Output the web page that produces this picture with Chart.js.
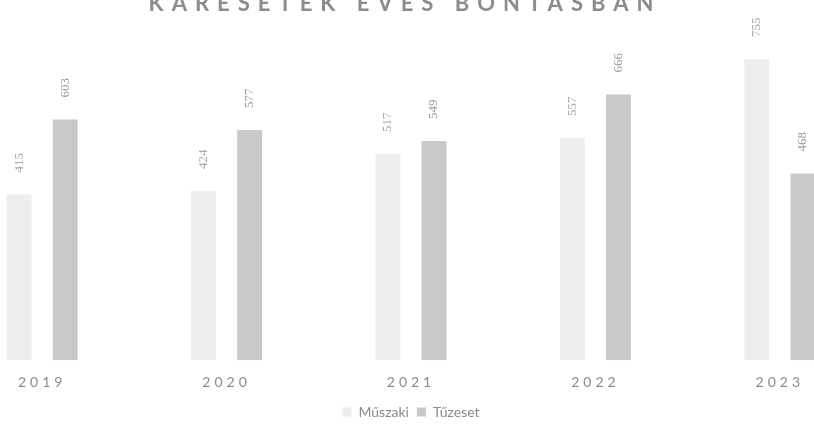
<!DOCTYPE html>
<html lang="hu">
<head>
    <meta charset="UTF-8">
    <title>Káresetek</title>
    <script src="https://cdn.jsdelivr.net/npm/chart.js"></script>
    <style>
        html, body { margin: 0; padding: 0; background: #fff; overflow: hidden; width: 814px; height: 427px; }
        #doboz { position: absolute; left: -50px; top: -22px; width: 922px; height: 451px; }
    </style>
</head>
<body>
    <div id="doboz"><canvas id="grafikon"></canvas></div>

<script>
    // adatok
    var evek = ['2019', '2020', '2021', '2022', '2023'];
    var muszaki = [415, 424, 517, 557, 755];
    var tuzeset = [603, 577, 549, 666, 468];
    var cim = 'KÁRESETEK ÉVES BONTÁSBAN';

    // cim kezi rajzolasa (betukozes miatt)
    var cimPlugin = {
        id: 'cimPlugin',
        afterDraw: function (chart) {
            var ctx = chart.ctx;
            ctx.save();
            ctx.font = 'bold 22px Lato';
            ctx.letterSpacing = '8px';
            ctx.fillStyle = '#8c8c8c';
            ctx.textAlign = 'center';
            ctx.textBaseline = 'alphabetic';
            ctx.fillText(cim, chart.width / 2 - 6, 33);
            ctx.restore();
        }
    };

    // ertekek az oszlopok felett, elforgatva
    var ertekPlugin = {
        id: 'ertekPlugin',
        afterDatasetsDraw: function (chart) {
            var ctx = chart.ctx;
            chart.data.datasets.forEach(function (ds, i) {
                var meta = chart.getDatasetMeta(i);
                meta.data.forEach(function (bar, j) {
                    ctx.save();
                    ctx.translate(bar.x, bar.y - 22);
                    ctx.rotate(-Math.PI / 2);
                    ctx.font = '13px "Liberation Serif"';
                    ctx.fillStyle = i == 0 ? '#a8a8a8' : '#9a9a9a';
                    ctx.textAlign = 'left';
                    ctx.textBaseline = 'middle';
                    ctx.fillText(ds.data[j], 0, 0);
                    ctx.restore();
                });
            });
        }
    };

    // evszamok betukozessel
    var tengelyPlugin = {
        id: 'tengelyPlugin',
        beforeDraw: function (chart) {
            var x = chart.scales.x;
            if (x._eredeti) return;
            x._eredeti = x.drawLabels;
            x.drawLabels = function (area) {
                chart.ctx.save();
                chart.ctx.letterSpacing = '4px';
                x._eredeti.call(x, area);
                chart.ctx.restore();
            };
        }
    };

    new Chart(document.getElementById('grafikon'), {
        type: 'bar',
        data: {
            labels: evek,
            datasets: [{
                label: 'Műszaki',
                data: muszaki,
                backgroundColor: '#eeeeee',
                categoryPercentage: 0.5,
                barPercentage: 0.54
            }, {
                label: 'Tűzeset',
                data: tuzeset,
                backgroundColor: '#c9c9c9',
                categoryPercentage: 0.5,
                barPercentage: 0.54
            }]
        },
        options: {
            responsive: true,
            maintainAspectRatio: false,
            animation: false,
            layout: { padding: { top: 47, left: 0, right: 0, bottom: 0 } },
            scales: {
                x: {
                    grid: { display: false },
                    border: { display: false },
                    ticks: {
                        color: '#8a8a8a',
                        padding: 6,
                        font: { size: 14, family: 'Lato' }
                    }
                },
                y: {
                    display: false,
                    min: 0,
                    max: 840
                }
            },
            plugins: {
                title: { display: false },
                tooltip: { enabled: false },
                legend: {
                    position: 'bottom',
                    labels: {
                        color: '#8a8a8a',
                        boxWidth: 9,
                        boxHeight: 9,
                        padding: 8,
                        font: { size: 14, family: 'Lato' }
                    }
                }
            }
        },
        plugins: [cimPlugin, ertekPlugin, tengelyPlugin]
    });
</script>
</body>
</html>
